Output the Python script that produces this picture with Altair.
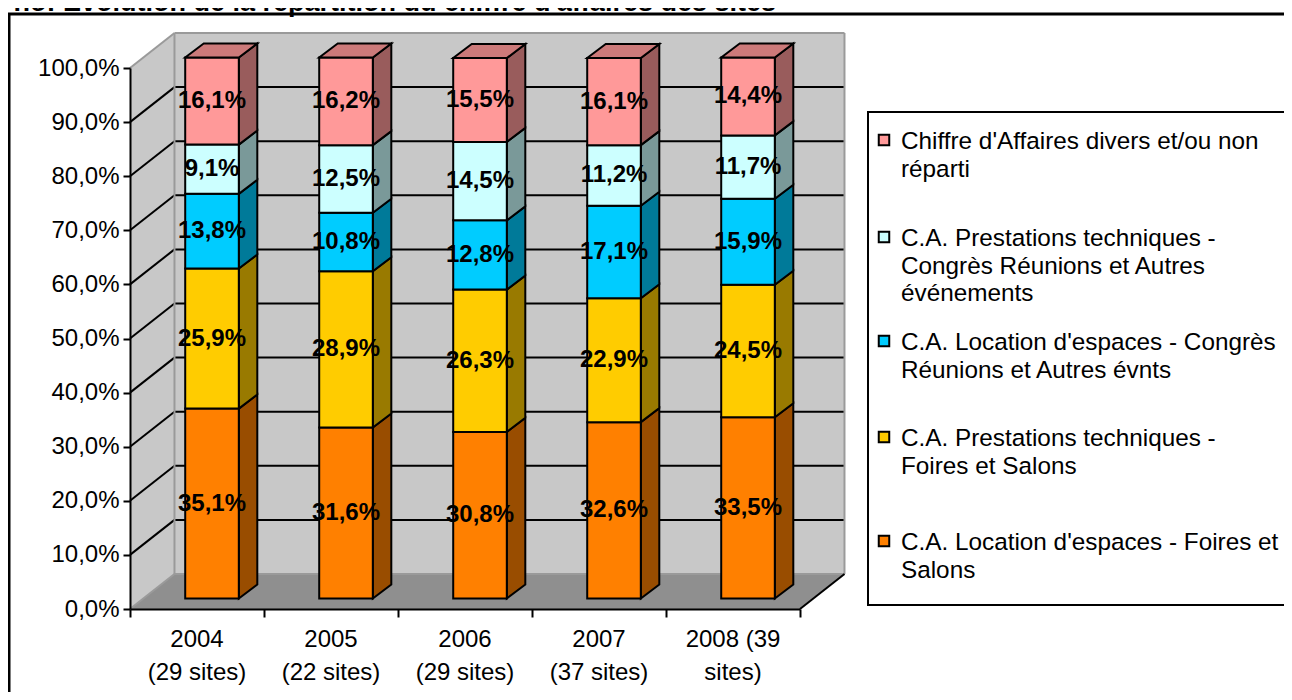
import altair as alt
import pandas as pd

# ---------------- data ----------------
years = ["2004\n(29 sites)", "2005\n(22 sites)", "2006\n(29 sites)", "2007\n(37 sites)", "2008 (39\nsites)"]

# series, bottom of the stack first
series = [
    "C.A. Location d'espaces - Foires et Salons",
    "C.A. Prestations techniques - Foires et Salons",
    "C.A. Location d'espaces - Congrès Réunions et Autres évnts",
    "C.A. Prestations techniques - Congrès Réunions et Autres événements",
    "Chiffre d'Affaires divers et/ou non réparti",
]
# legend texts (top of legend first), wrapped as in the original
legend_text = [
    "Chiffre d'Affaires divers et/ou non\nréparti",
    "C.A. Prestations techniques -\nCongrès Réunions et Autres\névénements",
    "C.A. Location d'espaces - Congrès\nRéunions et Autres évnts",
    "C.A. Prestations techniques -\nFoires et Salons",
    "C.A. Location d'espaces - Foires et\nSalons",
]

loc_foires = [35.1, 31.6, 30.8, 32.6, 33.5]
prest_foires = [25.9, 28.9, 26.3, 22.9, 24.5]
loc_congres = [13.8, 10.8, 12.8, 17.1, 15.9]
prest_congres = [9.1, 12.5, 14.5, 11.2, 11.7]
divers = [16.1, 16.2, 15.5, 16.1, 14.4]
values = [loc_foires, prest_foires, loc_congres, prest_congres, divers]

y_ticks = [0, 10, 20, 30, 40, 50, 60, 70, 80, 90, 100]
title_text = "no: Evolution de la répartition du chiffre d'affaires des sites"

# ---------------- styles ----------------
front_colors = ["#FF8000", "#FFCC00", "#00CCFF", "#CCFFFF", "#FF9999"]
side_colors = ["#994D00", "#997A00", "#007A99", "#7A9999", "#995C5C"]
top_colors = ["#CC6600", "#CCA300", "#00A3CC", "#A3CCCC", "#CC7A7A"]
legend_colors = list(reversed(front_colors))
WALL = "#C8C8C8"
FLOOR = "#8F8F8F"
EDGE = "#9A9A9A"
FONT = "Liberation Sans"

# ---------------- 3-D geometry (in data units) ----------------
N = len(years)
HALF = 0.2              # half width of a bar (category units)
OX, OY = 0.112, 1.94    # bar front plane offset (depth)
BX, BY = 0.138, 2.59    # bar depth
DX, DY = 0.332, 6.47    # floor / wall depth

xs = alt.Scale(domain=[0, N], nice=False, zero=False)
ys = alt.Scale(domain=[0, 100], nice=False, zero=False)


def X(f, **kw):
    return alt.X(f, type="quantitative", scale=xs, title=None, **kw)


def Y(f, **kw):
    return alt.Y(f, type="quantitative", scale=ys, title=None, **kw)


front_rows, label_rows, side_layers, top_layers = [], [], [], []
for i in range(N):
    xl = i + 0.5 - HALF + OX
    xr = i + 0.5 + HALF + OX
    b = 0.0
    for s in range(len(series)):
        v = values[s][i]
        t = b + v
        front_rows.append(dict(x1=xl, x2=xr, y1=b + OY, y2=t + OY, fill=front_colors[s]))
        label_rows.append(dict(x=(xl + xr) / 2, y=(b + t) / 2 + OY,
                               text=f"{v:.1f}".replace(".", ",") + "%"))
        df_s = pd.DataFrame([dict(x=xr, lo=b + OY, hi=t + OY),
                             dict(x=xr + BX, lo=b + OY + BY, hi=t + OY + BY)])
        side_layers.append(
            alt.Chart(df_s).mark_area(orient="vertical", fill=side_colors[s], stroke="black",
                                      strokeWidth=2).encode(
                x=X("x"), y=Y("lo", stack=None), y2="hi"))
        if s == len(series) - 1:
            df_t = pd.DataFrame([dict(y=t + OY, xa=xl, xb=xr),
                                 dict(y=t + OY + BY, xa=xl + BX, xb=xr + BX)])
            top_layers.append(
                alt.Chart(df_t).mark_area(orient="horizontal", fill=top_colors[s], stroke="black",
                                          strokeWidth=2).encode(
                    y=Y("y"), x=X("xa", stack=None), x2="xb"))
        b = t

df_front = pd.DataFrame(front_rows)
df_lab = pd.DataFrame(label_rows)

# walls / floor
df_lwall = pd.DataFrame([dict(x=0, lo=0, hi=100), dict(x=DX, lo=DY, hi=100 + DY)])
df_bwall = pd.DataFrame([dict(x1=DX, x2=N + DX, y1=DY, y2=100 + DY)])
df_floor = pd.DataFrame([dict(y=0, xa=0, xb=N), dict(y=DY, xa=DX, xb=N + DX)])

grid_rows = []
for p in y_ticks[1:-1]:
    grid_rows.append(dict(x1=0, x2=DX, y1=p, y2=p + DY))
    grid_rows.append(dict(x1=DX, x2=N + DX, y1=p + DY, y2=p + DY))
df_grid = pd.DataFrame(grid_rows)

df_edges = pd.DataFrame([
    dict(x1=0, x2=DX, y1=100, y2=100 + DY),
    dict(x1=DX, x2=N + DX, y1=100 + DY, y2=100 + DY),
    dict(x1=N + DX, x2=N + DX, y1=DY, y2=100 + DY),
    dict(x1=DX, x2=DX, y1=DY, y2=100 + DY),
    dict(x1=0, x2=DX, y1=0, y2=DY),
    dict(x1=DX, x2=N + DX, y1=DY, y2=DY),
])
df_fedge = pd.DataFrame([dict(x1=N, x2=N + DX, y1=0, y2=DY)])

df_xlab = pd.DataFrame([dict(x=i + 0.5, text=years[i]) for i in range(N)])

# legend layout (pixels, relative to the plot origin)
LEG_CENTER_Y = [72, 169, 273, 369, 473]
ONE = pd.DataFrame({"one": [1]})

y_axis = alt.Axis(values=y_ticks, labelExpr="replace(format(datum.value, '.1f'), '.', ',') + '%'",
                  labelFont=FONT, labelFontSize=24, labelColor="black", tickColor="black",
                  tickWidth=2, tickSize=7, domainColor="black", domainWidth=2, grid=False,
                  title=None, labelPadding=4, zindex=1)
x_axis = alt.Axis(values=list(range(N + 1)), labels=False, tickColor="black", tickWidth=2,
                  tickSize=8, domainColor="black", domainWidth=2, grid=False, title=None, zindex=1)

# ---------------- layers ----------------
bwall = alt.Chart(df_bwall).mark_rect(fill=WALL).encode(
    x=alt.X("x1:Q", scale=xs, axis=x_axis, title=None), x2="x2",
    y=alt.Y("y1:Q", scale=ys, axis=y_axis, title=None), y2="y2")
lwall = alt.Chart(df_lwall).mark_area(fill=WALL, orient="vertical").encode(
    x=X("x"), y=Y("lo", stack=None), y2="hi")
floor = alt.Chart(df_floor).mark_area(fill=FLOOR, orient="horizontal").encode(
    y=Y("y"), x=X("xa", stack=None), x2="xb")
grid = alt.Chart(df_grid).mark_rule(color="black", strokeWidth=2).encode(
    x=X("x1"), x2="x2", y=Y("y1"), y2="y2")
edges = alt.Chart(df_edges).mark_rule(color=EDGE, strokeWidth=2).encode(
    x=X("x1"), x2="x2", y=Y("y1"), y2="y2")
fedge = alt.Chart(df_fedge).mark_rule(color="black", strokeWidth=2).encode(
    x=X("x1"), x2="x2", y=Y("y1"), y2="y2")

fronts = alt.Chart(df_front).mark_rect(stroke="black", strokeWidth=2).encode(
    x=X("x1"), x2="x2", y=Y("y1"), y2="y2",
    fill=alt.Fill("fill:N", scale=None))

labels = alt.Chart(df_lab).mark_text(font=FONT, fontSize=24, fontWeight="bold", color="black",
                                     align="center", baseline="middle").encode(
    x=X("x"), y=Y("y"), text="text:N")

xlabels = alt.Chart(df_xlab).mark_text(font=FONT, fontSize=24, color="black", align="center",
                                       baseline="alphabetic", lineBreak="\n", lineHeight=33).encode(
    x=X("x"), y=alt.value(579), text="text:N")

outer_box = alt.Chart(ONE).mark_rect(
    stroke="black", strokeWidth=3, fillOpacity=0
).encode(x=alt.value(-121), x2=alt.value(1180), y=alt.value(-54), y2=alt.value(660))

title = alt.Chart(ONE).mark_text(
    text=title_text, font=FONT, fontSize=27, fontWeight="bold", align="right", baseline="alphabetic"
).encode(x=alt.value(646), y=alt.value(-57))

legend_box = alt.Chart(ONE).mark_rect(
    stroke="black", strokeWidth=2, fillOpacity=0
).encode(x=alt.value(738), x2=alt.value(1180), y=alt.value(44), y2=alt.value(537))

legend_layers = []
for k, txt in enumerate(legend_text):
    legend_layers.append(
        alt.Chart(ONE).mark_square(size=110, stroke="black", strokeWidth=2, opacity=1,
                                   fill=legend_colors[k]).encode(
            x=alt.value(754), y=alt.value(LEG_CENTER_Y[k])))
    legend_layers.append(
        alt.Chart(ONE).mark_text(text=txt, font=FONT, fontSize=24.3, color="black", align="left",
                                 baseline="alphabetic", lineBreak="\n", lineHeight=27.5).encode(
            x=alt.value(771), y=alt.value(LEG_CENTER_Y[k] + 9)))

chart = alt.layer(
    bwall, lwall, floor, grid, edges, fedge,
    *side_layers, fronts, *top_layers, labels, xlabels, outer_box, title, legend_box, *legend_layers
).properties(
    width=670, height=541,
    autosize=alt.AutoSizeParams(type="none"),
    padding={"left": 122, "top": 60, "right": 484, "bottom": 83},
    background="white",
).configure_view(stroke=None)

chart.save("out.html", embed_options={"renderer": "svg", "actions": False})
